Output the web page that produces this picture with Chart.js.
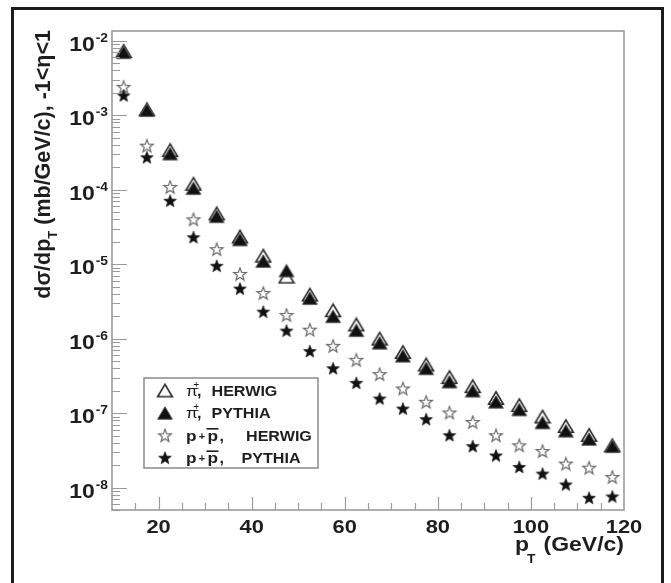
<!DOCTYPE html>
<html>
<head>
<meta charset="utf-8">
<script src="https://cdn.jsdelivr.net/npm/chart.js@4.4.0/dist/chart.umd.min.js"></script>
<style>
  html, body { margin: 0; padding: 0; background: #fff; }
  #wrap { width: 671px; height: 583px; }
</style>
</head>
<body>
<div id="wrap"><canvas id="xsec" width="671" height="583"></canvas></div>
<script>
// pT bin centres (GeV/c)
const ptBins = [12.5, 17.5, 22.5, 27.5, 32.5, 37.5, 42.5, 47.5, 52.5, 57.5, 62.5,
  67.5, 72.5, 77.5, 82.5, 87.5, 92.5, 97.5, 102.5, 107.5, 112.5, 117.5];

// dsigma/dpT (mb/GeV/c)
const piHerwig = [7.3e-3, 1.2e-3, 3.4e-4, 1.2e-4, 4.8e-5, 2.35e-5, 1.3e-5, 6.8e-6, 3.9e-6, 2.4e-6, 1.55e-6,
  1.0e-6, 6.6e-7, 4.5e-7, 3.05e-7, 2.3e-7, 1.6e-7, 1.28e-7, 9.0e-8, 6.7e-8, 5.1e-8, 3.7e-8];
const piPythia = [7.0e-3, 1.17e-3, 3.05e-4, 1.05e-4, 4.4e-5, 2.15e-5, 1.1e-5, 8.2e-6, 3.5e-6, 2.0e-6, 1.3e-6,
  8.8e-7, 5.9e-7, 4.0e-7, 2.65e-7, 2.0e-7, 1.42e-7, 1.12e-7, 7.5e-8, 5.8e-8, 4.5e-8, 3.6e-8];
const ppHerwig = [2.4e-3, 3.9e-4, 1.09e-4, 4.0e-5, 1.59e-5, 7.4e-6, 4.1e-6, 2.08e-6, 1.32e-6, 8.0e-7, 5.2e-7,
  3.34e-7, 2.14e-7, 1.42e-7, 1.02e-7, 7.6e-8, 5.05e-8, 3.7e-8, 3.1e-8, 2.1e-8, 1.85e-8, 1.39e-8];
const ppPythia = [1.84e-3, 2.72e-4, 7.1e-5, 2.3e-5, 9.5e-6, 4.7e-6, 2.3e-6, 1.28e-6, 6.8e-7, 4.0e-7, 2.55e-7,
  1.57e-7, 1.15e-7, 8.3e-8, 5.05e-8, 3.6e-8, 2.7e-8, 1.89e-8, 1.54e-8, 1.1e-8, 7.3e-9, 7.6e-9];

// axis ticks
const xTicks = [20, 40, 60, 80, 100, 120];
const yDecades = [-2, -3, -4, -5, -6, -7, -8];

// legend text pieces: [particle, generator]
const legendRows = [["pi", "HERWIG"], ["pi", "PYTHIA"], ["p", "HERWIG"], ["p", "PYTHIA"]];

const FONT = "'Liberation Sans', Arial, Helvetica, sans-serif";
const INK = "#1e1e1e";
const SX = 1.15; // the scanned figure is a bit wide

// marker images
function makeMarker(shape, fill, stroke, lw) {
  const c = document.createElement("canvas");
  c.width = 18; c.height = 16;
  const g = c.getContext("2d");
  g.beginPath();
  if (shape === "tri") {
    g.moveTo(9, 1.8); g.lineTo(1.6, 14.3); g.lineTo(16.4, 14.3); g.closePath();
  } else {
    const R = 6.7, r = 2.8;
    for (let i = 0; i < 10; i++) {
      const a = -Math.PI / 2 + i * Math.PI / 5;
      const rr = i % 2 ? r : R;
      g.lineTo(9 + rr * Math.cos(a), 8.6 + rr * Math.sin(a));
    }
    g.closePath();
  }
  g.fillStyle = fill; g.fill();
  g.lineWidth = lw; g.strokeStyle = stroke; g.stroke();
  return c;
}
const mkOpenTri = makeMarker("tri", "#fff", "#2a2a2a", 1.6);
const mkFullTri = makeMarker("tri", "#111", "#555", 1);
const mkOpenStar = makeMarker("star", "#fff", "#6a6a6a", 1.2);
const mkFullStar = makeMarker("star", "#111", "#111", 0.6);

function pts(arr) { return ptBins.map((x, i) => ({ x: x, y: arr[i] })); }

function txt(ctx, s, x, y, font, align, sx) {
  ctx.save();
  ctx.font = font;
  ctx.textAlign = align || "left";
  ctx.textBaseline = "alphabetic";
  ctx.translate(x, y);
  ctx.scale(sx || 1, 1);
  ctx.fillText(s, 0, 0);
  ctx.restore();
}
function tw(ctx, s, font, sx) {
  ctx.save(); ctx.font = font;
  const m = ctx.measureText(s).width * (sx || 1);
  ctx.restore();
  return m;
}

const decor = {
  id: "decor",
  beforeDraw(chart) {
    const ctx = chart.ctx;
    ctx.save();
    ctx.fillStyle = "#fff";
    ctx.fillRect(0, 0, chart.width, chart.height);
    // outer frame of the figure
    ctx.strokeStyle = "#1c1c1c";
    ctx.lineWidth = 3;
    ctx.beginPath();
    ctx.moveTo(12.5, 583); ctx.lineTo(12.5, 8.5); ctx.lineTo(662.5, 8.5); ctx.lineTo(662.5, 583);
    ctx.stroke();
    ctx.restore();
  },
  afterDatasetsDraw(chart) {
    const ctx = chart.ctx;
    const a = chart.chartArea;
    const xs = chart.scales.x, ys = chart.scales.y;
    ctx.save();
    // plot frame
    ctx.strokeStyle = "#9a9a9a";
    ctx.lineWidth = 1.6;
    ctx.strokeRect(a.left, a.top, a.right - a.left, a.bottom - a.top);

    // y ticks (inside, log minor ticks)
    ctx.lineWidth = 1.2;
    ctx.beginPath();
    for (let d = -9; d <= -2; d++) {
      for (let m = 1; m <= 9; m++) {
        const v = m * Math.pow(10, d);
        if (v < ys.min || v > ys.max) continue;
        const y = Math.round(ys.getPixelForValue(v)) + 0.5;
        const len = m === 1 ? 15 : 8;
        ctx.moveTo(a.left, y); ctx.lineTo(a.left + len, y);
      }
    }
    // x ticks (inside)
    for (let v = 15; v < 120; v += 5) {
      const x = Math.round(xs.getPixelForValue(v)) + 0.5;
      const len = v % 20 === 0 ? 13 : 7;
      ctx.moveTo(x, a.bottom); ctx.lineTo(x, a.bottom - len);
    }
    ctx.stroke();

    ctx.fillStyle = INK;
    // y tick labels 10^n
    const fMain = "bold 20px " + FONT, fSup = "bold 12px " + FONT;
    yDecades.forEach(d => {
      const y = ys.getPixelForValue(Math.pow(10, d));
      const sup = String(d);
      const sw = tw(ctx, sup, fSup, SX);
      txt(ctx, sup, 108 - sw, y + 1, fSup, "left", SX);
      txt(ctx, "10", 107 - sw, y + 10, fMain, "right", SX);
    });
    // x tick labels
    xTicks.forEach(v => {
      txt(ctx, String(v), xs.getPixelForValue(v), 533, "bold 19px " + FONT, "center", SX);
    });
    // x title
    txt(ctx, "p", 515, 551, "bold 20px " + FONT, "left", SX);
    txt(ctx, "T", 527, 563, "bold 12px " + FONT, "left", SX);
    txt(ctx, " (GeV/c)", 624, 551, "bold 20px " + FONT, "right", SX);

    // y title, rotated
    ctx.save();
    ctx.translate(50, 30);
    ctx.rotate(-Math.PI / 2);
    const fT = "bold 21.5px " + FONT, fTs = "bold 13px " + FONT;
    const p1 = "d\u03c3/dp", p2 = "T", p3 = " (mb/GeV/c), -1<\u03b7<1";
    const w1 = tw(ctx, p1, fT), w2 = tw(ctx, p2, fTs), w3 = tw(ctx, p3, fT);
    let x0 = -(w1 + w2 + w3);
    txt(ctx, p1, x0, 0, fT, "left");
    txt(ctx, p2, x0 + w1, 7, fTs, "left");
    txt(ctx, p3, x0 + w1 + w2, 0, fT, "left");
    ctx.restore();

    // legend
    ctx.strokeStyle = "#8a8a8a";
    ctx.lineWidth = 1.5;
    ctx.strokeRect(144, 378, 174, 90);
    const marks = [mkOpenTri, mkFullTri, mkOpenStar, mkFullStar];
    const fL = "bold 14px " + FONT;
    legendRows.forEach((row, i) => {
      const cy = 390.5 + i * 22.4;
      const mk = marks[i];
      ctx.drawImage(mk, 165 - mk.width / 2, cy - mk.height / 2);
      const base = cy + 5.5;
      if (row[0] === "pi") {
        txt(ctx, "\u03c0", 186, base, "15px " + FONT, "left", SX);
        txt(ctx, "\u00b1", 193.5, base - 7.5, "10px " + FONT, "left", 1);
        txt(ctx, ",", 197, base, fL, "left", SX);
        txt(ctx, row[1], 211.5, base, fL, "left", SX);
      } else {
        txt(ctx, "p", 186, base, "bold 15px " + FONT, "left", SX);
        txt(ctx, "+", 202, base - 1, "bold 11px " + FONT, "center", 1);
        txt(ctx, "p", 207.5, base, "bold 15px " + FONT, "left", SX);
        ctx.beginPath();
        ctx.lineWidth = 1.6;
        ctx.strokeStyle = INK;
        ctx.moveTo(206.5, base - 12); ctx.lineTo(218.5, base - 12);
        ctx.stroke();
        txt(ctx, ",", 219.5, base, fL, "left", SX);
        txt(ctx, row[1], row[1] === "HERWIG" ? 246 : 241.5, base, fL, "left", SX);
      }
    });
    ctx.restore();
  }
};

const chart = new Chart(document.getElementById("xsec"), {
  type: "scatter",
  data: {
    datasets: [
      { label: "pi PYTHIA", data: pts(piPythia), pointStyle: mkFullTri, order: 0 },
      { label: "pi HERWIG", data: pts(piHerwig), pointStyle: mkOpenTri, order: 1 },
      { label: "p PYTHIA", data: pts(ppPythia), pointStyle: mkFullStar, order: 2 },
      { label: "p HERWIG", data: pts(ppHerwig), pointStyle: mkOpenStar, order: 3 }
    ]
  },
  options: {
    responsive: false,
    animation: false,
    devicePixelRatio: 1,
    events: [],
    clip: false,
    layout: { padding: { left: 112, top: 31, right: 47, bottom: 73 } },
    plugins: { legend: { display: false }, tooltip: { enabled: false } },
    scales: {
      x: { type: "linear", min: 10, max: 120, display: false },
      y: { type: "logarithmic", min: 5e-9, max: 1.35e-2, display: false }
    }
  },
  plugins: [decor]
});
</script>
</body>
</html>
